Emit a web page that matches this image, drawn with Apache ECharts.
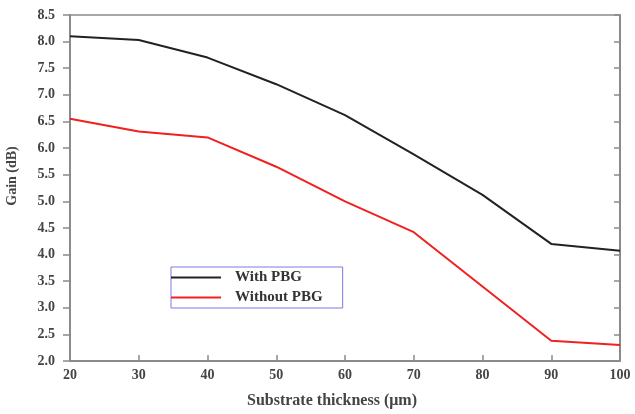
<!DOCTYPE html>
<html>
<head>
<meta charset="utf-8">
<script src="https://cdn.jsdelivr.net/npm/echarts@6/dist/echarts.min.js"></script>
<style>html,body{margin:0;padding:0;background:#fff;}#c{width:635px;height:414px;}</style>
</head>
<body>
<div id="c"></div>
<script>
const thickness = [20, 30, 40, 50, 60, 70, 80, 90, 100];
const withPBG = [8.10, 8.03, 7.70, 7.20, 6.62, 5.88, 5.12, 4.20, 4.07];
const withoutPBG = [6.55, 6.31, 6.20, 5.65, 5.00, 4.42, 3.40, 2.38, 2.30];
const seriesNames = ['With PBG', 'Without PBG'];

const chart = echarts.init(document.getElementById('c'));
const font = '"Liberation Serif", "Times New Roman", serif';
const axisCol = '#8a8a8a';
const lblStyle = {fontFamily: font, fontWeight: 'bold', fontSize: 14, color: '#444'};

chart.setOption({
  animation: false,
  backgroundColor: '#fff',
  grid: {left: 70, right: 15, top: 15, bottom: 51},
  graphic: [{
    type: 'text', x: 12, y: 176, rotation: Math.PI / 2,
    style: {text: 'Gain (dB)', fontFamily: font, fontWeight: 'bold', fontSize: 14, fill: '#444',
            textAlign: 'center', textVerticalAlign: 'middle'}
  }],
  legend: {
    orient: 'vertical', left: 171, top: 267,
    data: seriesNames,
    borderColor: '#7a7ae0', borderWidth: 1,
    padding: [3, 20, 3, 0],
    itemGap: 5, itemWidth: 50, itemHeight: 15,
    icon: 'path://M0,6 L50,6 L50,8 L0,8 Z',
    textStyle: {fontFamily: font, fontWeight: 'bold', fontSize: 15, color: '#333', padding: [0, 0, 0, 9]}
  },
  xAxis: [{
    type: 'value', min: 20, max: 100, interval: 10,
    name: 'Substrate thickness (\u03bcm)', nameLocation: 'middle', nameGap: 32,
    nameTextStyle: {fontFamily: font, fontWeight: 'bold', fontSize: 16, color: '#444', padding: [0, 26, 0, 0]},
    axisLine: {show: true, lineStyle: {color: axisCol, width: 2}},
    axisTick: {show: true, inside: true, length: 6, lineStyle: {color: axisCol, width: 1.5}},
    axisLabel: Object.assign({margin: 7}, lblStyle),
    splitLine: {show: false}
  }, {
    type: 'value', min: 20, max: 100, interval: 10, position: 'top',
    axisLine: {show: true, onZero: false, lineStyle: {color: axisCol, width: 1.5}},
    axisTick: {show: false}, axisLabel: {show: false}, splitLine: {show: false}
  }],
  yAxis: [{
    type: 'value', min: 2.0, max: 8.5, interval: 0.5,
    axisLine: {show: true, lineStyle: {color: axisCol, width: 2}},
    axisTick: {show: true, length: 7, lineStyle: {color: axisCol, width: 1.5}},
    axisLabel: Object.assign({margin: 15, formatter: v => v.toFixed(1)}, lblStyle),
    splitLine: {show: false}
  }, {
    type: 'value', min: 2.0, max: 8.5, interval: 0.5, position: 'right',
    axisLine: {show: true, onZero: false, lineStyle: {color: axisCol, width: 2}},
    axisTick: {show: true, inside: true, length: 6, lineStyle: {color: axisCol, width: 1.5}},
    axisLabel: {show: false}, splitLine: {show: false}
  }],
  series: [{
    name: seriesNames[0], type: 'line', showSymbol: false,
    data: thickness.map((x, i) => [x, withPBG[i]]),
    lineStyle: {color: '#222', width: 2}, itemStyle: {color: '#222'}
  }, {
    name: seriesNames[1], type: 'line', showSymbol: false,
    data: thickness.map((x, i) => [x, withoutPBG[i]]),
    lineStyle: {color: '#f02020', width: 2}, itemStyle: {color: '#f02020'}
  }]
});
</script>
</body>
</html>
